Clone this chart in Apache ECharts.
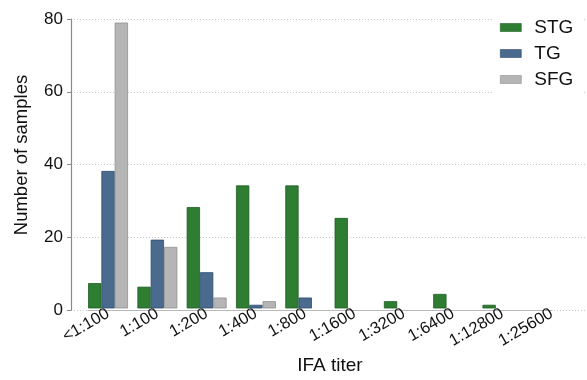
<!DOCTYPE html>
<html>
<head>
<meta charset="utf-8">
<script src="https://cdn.jsdelivr.net/npm/echarts@6/dist/echarts.min.js"></script>
<style>
  html, body { margin: 0; padding: 0; background: #fff; }
  #chart { width: 587px; height: 380px; }
</style>
</head>
<body>
<div id="chart"></div>
<script>
// IFA titer categories and sample counts per group
const titers = ['<1:100', '1:100', '1:200', '1:400', '1:800', '1:1600', '1:3200', '1:6400', '1:12800', '1:25600'];
const stg = [7, 6, 28, 34, 34, 25, 2, 4, 1, 0];
const tg  = [38, 19, 10, 1, 3, 0, 0, 0, 0, 0];
const sfg = [79, 17, 3, 2, 0, 0, 0, 0, 0, 0];
const yTicks = [0, 20, 40, 60, 80];

const FONT = '"Liberation Sans", Arial, Helvetica, sans-serif';
const yMin = yTicks[0], yMax = yTicks[yTicks.length - 1], yStep = yTicks[1] - yTicks[0];

// zero counts are simply not drawn
const nz = arr => arr.map(v => (v === 0 ? '-' : v));

const groups = [
  { name: 'STG', data: stg, color: '#2f7d32', border: '#1d5e22' },
  { name: 'TG',  data: tg,  color: '#4a6b8e', border: '#2d4c6f' },
  { name: 'SFG', data: sfg, color: '#b5b5b5', border: '#8f8f8f' }
];

const chart = echarts.init(document.getElementById('chart'), null, { renderer: 'canvas' });

chart.setOption({
  backgroundColor: '#ffffff',
  animation: false,
  textStyle: { fontFamily: FONT },
  grid: [
    // frame with the count axis and its dotted grid lines
    { left: 71, right: 0, top: 19, bottom: 70 },
    // bar groups
    { left: 83.4, width: 493, top: 19, bottom: 70 },
    // baseline under the bars
    { left: 88, width: 464, top: 19, bottom: 70 }
  ],
  legend: {
    data: groups.map(g => g.name),
    orient: 'vertical',
    left: 493,
    top: 5,
    padding: [13, 10, 14, 7],
    backgroundColor: '#ffffff',
    itemWidth: 21,
    itemHeight: 8,
    itemGap: 7,
    icon: 'rect',
    itemStyle: { borderWidth: 0.6 },
    textStyle: { fontFamily: FONT, fontSize: 19, color: '#111', lineHeight: 19, padding: [0, 0, 0, 8] }
  },
  xAxis: [
    {
      gridIndex: 0, type: 'value', min: 0, max: 1, show: false
    },
    {
      gridIndex: 1,
      type: 'category',
      data: titers,
      boundaryGap: true,
      name: 'IFA titer',
      nameLocation: 'middle',
      nameGap: 8,
      nameTextStyle: { fontFamily: FONT, fontSize: 19, color: '#111' },
      axisLine: { show: false },
      axisTick: { show: false },
      axisLabel: {
        interval: 0,
        rotate: 30,
        margin: 4,
        fontFamily: FONT,
        fontSize: 16.5,
        color: '#111'
      },
      splitLine: { show: false }
    },
    {
      gridIndex: 2, type: 'value', min: 0, max: 1,
      axisLine: { show: true, lineStyle: { color: '#b8b8b8', width: 1.2 } },
      axisTick: { show: false },
      axisLabel: { show: false },
      splitLine: { show: false }
    }
  ],
  yAxis: [
    {
      gridIndex: 0,
      type: 'value',
      min: yMin, max: yMax, interval: yStep,
      name: 'Number of samples',
      nameLocation: 'middle',
      nameGap: 40,
      nameTextStyle: { fontFamily: FONT, fontSize: 18.5, color: '#111', padding: [0, 0, 0, 19] },
      axisLine: { show: true, lineStyle: { color: '#8a8a8a', width: 1.2 } },
      axisTick: { show: true, length: 4, lineStyle: { color: '#8a8a8a' } },
      axisLabel: { fontFamily: FONT, fontSize: 17, color: '#111', margin: 8 },
      splitLine: { show: true, lineStyle: { color: '#c8c8c8', type: [1, 2], width: 1 } }
    },
    { gridIndex: 1, type: 'value', min: yMin, max: yMax, interval: yStep, show: false },
    { gridIndex: 2, type: 'value', min: yMin, max: yMax, show: false }
  ],
  series: groups.map(g => ({
    name: g.name,
    type: 'bar',
    xAxisIndex: 1,
    yAxisIndex: 1,
    data: nz(g.data),
    barWidth: 13.3,
    barGap: '0%',
    itemStyle: { color: g.color, borderColor: g.border, borderWidth: 0.8 }
  }))
});
</script>
</body>
</html>
